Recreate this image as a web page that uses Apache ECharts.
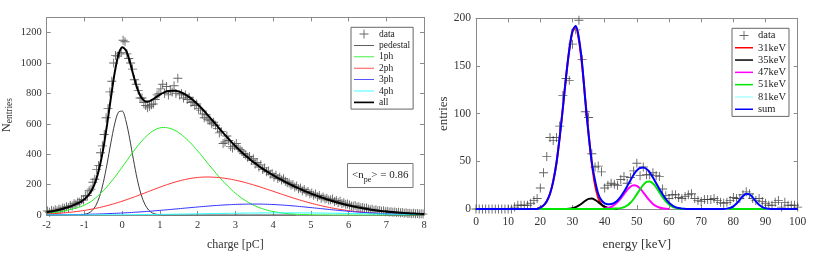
<!DOCTYPE html>
<html><head><meta charset="utf-8">
<script src="https://cdn.jsdelivr.net/npm/echarts@6/dist/echarts.min.js"></script>
<style>html,body{margin:0;padding:0;background:#fff}#c{width:817px;height:256px}</style>
</head><body><div id="c"></div>
<script>
// ---------------- LEFT CHART DATA (charge [pC]) ----------------
const chargeDataStart = -1.975, chargeDataStep = 0.05;
const chargeData = [
 26,18,30,24,34,28,40,35,46,44,
 55,50,62,60,74,70,86,84,100,98,
 125,128,160,170,215,235,300,325,410,455,
 530,640,700,810,880,1000,1050,1045,1060,1070,
 1150,1140,1060,1030,1000,960,890,860,820,770,
 770,740,720,705,715,725,730,760,790,800,
 830,860,800,845,790,820,810,850,800,900,
 790,800,770,790,760,775,740,745,720,730,
 700,690,665,640,660,630,620,600,610,590,
 570,540,550,470,480,520,490,450,440,455,
 470,440,430,420,405,395,380,385,360,370,
 335,345,315,330,300,310,285,290,268,272,
 250,262,240,248,230,238,222,212,210,198,
 200,185,190,172,178,160,168,150,155,140,
 145,130,138,120,128,110,118,105,110,98,
 100,105,88,95,82,90,75,80,70,72,
 65,60,58,62,52,55,48,50,44,46,
 40,35,38,30,34,28,30,25,28,22,
 25,20,22,18,20,16,18,14,16,12,
 14,10,12,9,11,8,10,7,9,6
];
const curveStart = -2, curveStep = 0.1;
const pedestalStart = -1.1;
const pedestal = [1.3,4.1,11.3,27.9,61,121,213,336,474,598,676,684,619,501,363,235,136.5,70.9,32.9,13.7,5.1,1.7,0.5,0.15,
 0,0,0,0,0,0,0,0,0,0,0,0,0,0,0,0,0,0,0,0,0,0,0,0,0,0,0,0,0,0,0,0,0,0];
const ph1 = [10,13,16,20,24,29,34,40,47,55,
 64,77,93,113,136,160.1,187,216.2,247.4,280.4,
 314.6,349.4,384.2,418.2,450.8,481.1,508.3,531.7,550.7,564.6,
 573.1,576,573.8,567.2,556.4,541.6,523.2,501.5,477.1,450.2,
 421.3,391.9,361.1,330.4,300.7,271.1,242.3,215.2,189.6,165.7,
 143.5,123.5,105.7,89.6,75.3,62.8,52,42.7,34.9,28.2,
 22.6,18.1,14.3,11.2,8.7,6.7,5.2,3.9,3,2.2,
 1.7,1.2,0.9,0.7,0.5,0.35,0.25,0.2,0.1,0.1,
 0,0,0,0,0,0,0,0,0,0,0,0,0,0,0,0,0,0,0,0,0];
const ph2 = [6.7,8,9.4,11,12.9,15,17.4,20.1,23.1,26.5,
 30.2,34.4,38.9,43.9,49.3,55.1,61.4,68.1,75.3,82.9,
 90.8,99.2,107.9,116.9,126.1,135.5,145,154.6,164.2,173.6,
 182.9,191.9,200.5,208.7,216.4,223.4,229.7,235.3,240.1,244,
 246.9,248.9,249.9,250,249.1,247.6,245.3,242.3,238.6,234.3,
 229.3,223.7,217.6,211,203.9,196.6,188.9,180.9,172.7,164.4,
 156.1,147.7,139.3,131,122.7,114.7,106.9,99.3,91.9,84.9,
 78.1,71.6,65.5,59.7,54.3,49.2,44.5,40,36,32.2,
 28.8,25.6,22.7,20,17.7,15.5,13.6,11.9,10.3,9,
 7.8,6.7,5.8,4.9,4.2,3.6,3.1,2.6,2.2,1.8,
 1.5];
const ph3 = [1.1,1.3,1.5,1.7,2.0,2.3,2.6,3.0,3.4,3.8,
 4.4,4.9,5.6,6.2,7.0,7.8,8.8,9.7,10.8,12,
 13.2,14.5,15.9,17.4,19,20.6,22.4,24.2,26.2,28.2,
 30.3,32.4,34.6,36.8,39.1,41.4,43.7,46,48.3,50.5,
 52.7,54.9,57,59,60.9,62.7,64.4,65.9,67.3,68.5,
 69.6,70.4,71.1,71.6,71.9,72,71.9,71.5,70.9,70,
 69,67.7,66.1,64.5,62.6,60.6,58.4,56.1,53.7,51.2,
 48.8,46.2,43.7,41.1,38.6,36.1,33.6,31.1,28.7,26.5,
 24.4,22.3,20.4,18.5,16.8,15.2,13.7,12.2,10.9,9.7,
 8.7,7.7,6.7,5.9,5.2,4.5,3.9,3.4,2.9,2.5,
 2.2];
const ph4 = [0.16,0.18,0.2,0.24,0.27,0.31,0.35,0.4,0.45,0.51,
 0.58,0.65,0.7,0.8,0.9,1.0,1.1,1.3,1.4,1.6,
 1.7,1.9,2.1,2.3,2.5,2.7,3.0,3.2,3.5,3.8,
 4.1,4.4,4.7,5.0,5.4,5.7,6.1,6.5,6.9,7.3,
 7.7,8.1,8.5,8.9,9.3,9.7,10.1,10.4,10.8,11.2,
 11.6,11.8,12.2,12.5,12.8,13.0,13.2,13.4,13.6,13.8,
 13.9,13.9,14,14,14,13.9,13.9,13.8,13.6,13.4,
 13.2,13.0,12.8,12.5,12.2,11.8,11.6,11.2,10.8,10.4,
 10.1,9.7,9.3,8.9,8.5,8.1,7.7,7.3,6.9,6.5,
 6.1,5.7,5.4,5.0,4.7,4.4,4.1,3.8,3.5,3.2,
 3.0];
const allFit = [18,22.5,27.1,32.9,39.2,46.6,54.4,63.5,74.4,87.1,
 103.3,128.3,166.1,224.9,314.2,437,594.3,769.3,932.9,1052.9,
 1104.3,1084,1011.1,917.8,833.4,776.4,749.6,746.6,758.3,775.3,
 792.1,805.2,813.8,817.7,817.3,812.1,802.7,789.3,772.4,752,
 728.6,703.8,676.5,648.3,620,591.1,562.1,533.8,506.3,479.7,
 454,429.4,406.6,384.7,363.9,344.4,326,308.5,292.1,276.4,
 261.6,247.4,233.7,220.7,208,195.9,184.4,173.1,162.2,151.7,
 141.8,132,122.9,114,105.6,97.5,90,82.5,75.6,69.2,
 63.3,57.6,52.4,47.4,43,38.8,35,31.4,28.1,25.2,
 22.6,20.1,17.9,15.8,14.1,12.5,11.1,9.8,8.6,7.5,
 6.7];

// ---------------- RIGHT CHART DATA (energy [keV]) ----------------
const energyStart = 0, energyStep = 1;
const energyData = [0,0,0,0,0,0,0,0,0,0,
 0,0,2,4,4,4,4,6,9,11,
 22,38,55,75,72,75,87,119,137,135,
 173,188,198,157,102,96,58,44,45,39,
 22,25,27,26,25,31,34,27,33,40,
 48,35,44,36,36,38,35,34,21,14,
 11,15,15,12,11,13,15,16,11,9,
 8,10,10,10,11,9,7,6,7,9,
 12,11,11,15,18,16,11,9,11,8,
 6,4,4,7,9,2,7,4,4,4,
 2];
const k31Start = 19;
const k31 = [0.65,1.6,3.8,8.1,16,29,48,75,106,139,167,186,191,177,150,114,79,48,25,11.5,4.8,1.8,0.6,0.2];
const k35Start = 28;
const k35 = [0.1,0.3,0.8,1.9,3.7,6.1,8.7,10.6,10.9,9.6,7.2,4.6,2.5,1.2,0.5,0.15,0];
const k47Start = 40;
const k47 = [0.5,1.1,2.3,4.3,7.2,11.1,15.6,20,23.4,25,24.3,21.5,17.4,12.9,8.7,5.3,3,1.5,0.7,0.3,0.1];
const k51Start = 20;
const k51 = [0,0,0,0,0,0,0,0,0,0,0,0,0,0,0,0,0,0,0,0,0,0,0,
 0.15,0.4,0.9,1.9,3.7,6.5,10.5,15.5,20.7,25.4,28.4,28.9,26.8,22.7,17.6,12.4,8,4.7,2.5,1.2,0.5,0.2,0.1,
 0,0,0,0,0,0,0,0,0,0,0,0,0,0,0,0,0,0,0,0,0,0,0,0,0,0,0];
const k81Start = 76;
const k81 = [0,0.1,0.4,1.1,2.8,5.7,9.7,13.6,15.9,15.3,12.2,8,4.4,2,0.7,0.2,0];
const sumFit = [0,0,0,0,0,0,0,0,0,0,0,0,0,0,0,0,0,0,0,0,
 1.6,3.8,8.1,16,29,48,75,106,139,167,
 187,192,179,152,113,78,49,30,16,9,
 6,5,5.2,6.5,9,13,18,24,30,36,
 40.5,43,43.5,42,38.5,33,27,21,15.5,10.5,
 6.5,3.8,2,1,0.4,0.15,0,0,0,0,
 0,0,0,0,0,0,0,0.1,0.4,1.1,
 2.8,5.7,9.7,13.6,15.9,15.3,12.2,8,4.4,2,
 0.7,0.2,0,0,0,0,0,0,0,0,
 0];

// ---------------- helpers ----------------
function pairs(start, step, arr){ return arr.map((v,i)=>[Math.round((start+i*step)*1000)/1000, v]); }
const FONT = 'Liberation Serif';
const AX = '#8a8a8a', LBL = '#333';
const plus = 'path://M4.5,0h1v4.5h4.5v1h-4.5v4.5h-1v-4.5h-4.5v-1h4.5z';
const thin = 'path://M0,0H24V1H0z';
const thick = 'path://M0,0H12V1H0z';

function xAx(grid, min, max, itv, top, name, fs, gap, margin){
  return {type:'value', gridIndex:grid, min:min, max:max, interval:itv, position: top?'top':'bottom',
    axisLine:{show:true, onZero:false, lineStyle:{color:AX, width:1}},
    axisTick:{show:true, inside:true, length:4, lineStyle:{color:AX}},
    axisLabel:{show:!top, color:LBL, fontFamily:FONT, fontSize:fs, margin:margin||5, formatter:v=>String(v)},
    splitLine:{show:false},
    name: top?'':name, nameLocation:'middle', nameGap:gap,
    nameTextStyle:{fontFamily:FONT, fontSize:fs+1.5, color:LBL}};
}
function yAx(grid, min, max, itv, right, name, fs, gap){
  return {type:'value', gridIndex:grid, min:min, max:max, interval:itv, position: right?'right':'left',
    axisLine:{show:true, onZero:false, lineStyle:{color:AX, width:1}},
    axisTick:{show:true, inside:true, length:4, lineStyle:{color:AX}},
    axisLabel:{show:!right, color:LBL, fontFamily:FONT, fontSize:fs, margin:5, showMaxLabel: max===1300?false:true,
      formatter:v=>String(v)},
    splitLine:{show:false},
    name: right?'':name, nameLocation:'middle', nameGap:gap,
    nameTextStyle:{fontFamily:FONT, fontSize:fs+1.5, color:LBL}};
}
function line(name, xi, yi, data, color, width, z){
  return {type:'line', name:name, xAxisIndex:xi, yAxisIndex:yi, data:data, symbol:'none', smooth:0.3,
    lineStyle:{color:color, width:width}, itemStyle:{color:color}, z:z, animation:false};
}

const chart = echarts.init(document.getElementById('c'), null, {renderer:'canvas'});
chart.setOption({
  animation:false,
  backgroundColor:'#fff',
  grid:[{left:46.7, top:17.4, width:377.3, height:199.3},
        {left:476, top:18.4, width:321.7, height:198.9}],
  xAxis:[xAx(0,-2,8,1,false,'charge [pC]',10.5,24,5), xAx(0,-2,8,1,true,'',10,0),
         xAx(1,0,100,10,false,'energy [keV]',11.5,29,6.5), xAx(1,0,100,10,true,'',11,0)],
  yAxis:[yAx(0,0,1300,200,false,'',10.5,0), yAx(0,0,1300,200,true,'',10,0),
         yAx(1,0,200,50,false,'entries',11.5,19), yAx(1,0,200,50,true,'',11,0)],
  legend:[
    {orient:'vertical', left:351, top:27.3, selectedMode:false,
     data:[{name:'data', icon:plus},{name:'pedestal',icon:thin},{name:'1ph',icon:thin},{name:'2ph',icon:thin},
           {name:'3ph',icon:thin},{name:'4ph',icon:thin},{name:'all',icon:thick}],
     itemWidth:20, itemHeight:9, itemGap:0, padding:[1,3,1,3],
     borderColor:'#666', borderWidth:1, backgroundColor:'#fff',
     textStyle:{fontFamily:FONT, fontSize:9.5, color:'#222', lineHeight:11.4}},
    {orient:'vertical', left:732, top:28.3, selectedMode:false,
     data:[{name:'data', icon:plus},{name:'31keV',icon:thick},{name:'35keV',icon:thick},{name:'47keV',icon:thick},
           {name:'51keV',icon:thick},{name:'81keV',icon:thick},{name:'sum',icon:thick}],
     itemWidth:18, itemHeight:9, itemGap:0, padding:[1,3,1,3],
     borderColor:'#666', borderWidth:1, backgroundColor:'#fff',
     textStyle:{fontFamily:FONT, fontSize:10.5, color:'#222', lineHeight:12.3}}
  ],
  graphic:[
    {type:'text', x:6.5, y:115, rotation:Math.PI/2,
     style:{text:'{n|N}{s|entries}', align:'center', verticalAlign:'middle',
       rich:{n:{fontFamily:FONT, fontSize:12, fill:LBL, lineHeight:16, verticalAlign:'middle'},
             s:{fontFamily:FONT, fontSize:9.5, fill:LBL, lineHeight:9, verticalAlign:'bottom'}}}},
    {type:'rect', shape:{x:347.5, y:163.5, width:65.5, height:24},
     style:{fill:'#fff', stroke:'#777', lineWidth:1}, z:100},
    {type:'text', x:380.3, y:175.5, z:101,
     style:{text:'{a|<n}{s|pe}{a|> = 0.86}', align:'center', verticalAlign:'middle',
       rich:{a:{fontFamily:FONT, fontSize:11, fill:'#222', lineHeight:16, verticalAlign:'middle'},
             s:{fontFamily:FONT, fontSize:8, fill:'#222', lineHeight:8, verticalAlign:'bottom'}}}}
  ],
  series:[
    {type:'scatter', name:'data', xAxisIndex:0, yAxisIndex:0,
     data:pairs(chargeDataStart, chargeDataStep, chargeData),
     symbol:plus, symbolSize:9, itemStyle:{color:'#555', opacity:0.9}, z:2},
    line('pedestal',0,0,pairs(pedestalStart,curveStep,pedestal),'#3c3c3c',1,3),
    line('1ph',0,0,pairs(curveStart,curveStep,ph1),'#22ee22',1,3),
    line('2ph',0,0,pairs(curveStart,curveStep,ph2),'#ff3030',1,3),
    line('3ph',0,0,pairs(curveStart,curveStep,ph3),'#3030ff',1,3),
    line('4ph',0,0,pairs(curveStart,curveStep,ph4),'#22ffff',1,3),
    line('all',0,0,pairs(curveStart,curveStep,allFit),'#000000',2,4),

    {type:'scatter', name:'data', xAxisIndex:2, yAxisIndex:2,
     data:pairs(energyStart, energyStep, energyData),
     symbol:plus, symbolSize:9, itemStyle:{color:'#3a3a3a'}, z:2},
    line('31keV',2,2,pairs(k31Start,energyStep,k31),'#ff0000',2,3),
    line('35keV',2,2,pairs(k35Start,energyStep,k35),'#000000',2,3),
    line('47keV',2,2,pairs(k47Start,energyStep,k47),'#ff00ff',2,3),
    line('51keV',2,2,pairs(k51Start,energyStep,k51),'#00e600',2,3),
    line('81keV',2,2,pairs(k81Start,energyStep,k81),'#b0ffff',2,3),
    line('sum',2,2,pairs(energyStart,energyStep,sumFit),'#0000ff',2,4)
  ]
});
</script></body></html>
